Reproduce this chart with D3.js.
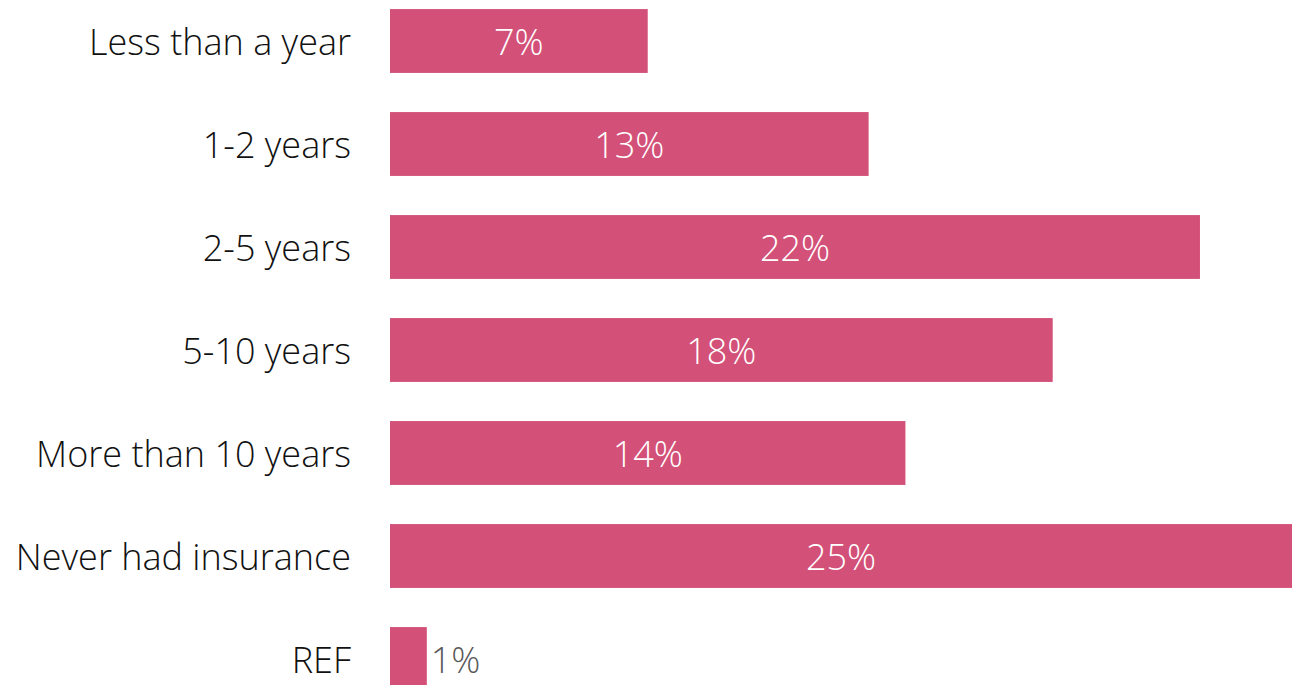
<!DOCTYPE html>
<html>
<head>
<meta charset="utf-8">
<script src="https://cdn.jsdelivr.net/npm/d3@7"></script>
<style>
  html, body { margin: 0; padding: 0; background: #fff; overflow: hidden; }
  svg { display: block; font-family: "Open Sans", "Noto Sans", sans-serif; }
</style>
</head>
<body>
<div id="chart"></div>
<script>
const categories = ['Less than a year', '1-2 years', '2-5 years', '5-10 years', 'More than 10 years', 'Never had insurance', 'REF'];
const values = [7.0, 13.0, 22.0, 18.0, 14.0, 24.5, 1.0];
const labels = ['7%', '13%', '22%', '18%', '14%', '25%', '1%'];

const width = 1292, height = 685;
const margin = { left: 390, right: 0 };
const barColor = '#d35078';
const fontSize = 36;

const data = categories.map((c, i) => ({ cat: c, value: values[i], label: labels[i] }));

const svg = d3.select('#chart').append('svg')
  .attr('width', width)
  .attr('height', height);

// scales
const xScale = d3.scaleLinear().domain([0, 24.5]).range([margin.left, width - margin.right]);
const yScale = d3.scaleBand().domain(categories)
  .range([-10.5, -10.5 + 103 * categories.length])
  .paddingInner(0.38)
  .paddingOuter(0.19);

// bars
svg.append('g').selectAll('rect')
  .data(data)
  .join('rect')
  .attr('x', xScale(0))
  .attr('y', d => yScale(d.cat))
  .attr('width', d => xScale(d.value) - xScale(0))
  .attr('height', yScale.bandwidth())
  .attr('fill', barColor);

// category labels
svg.append('g').selectAll('text')
  .data(data)
  .join('text')
  .attr('x', 351)
  .attr('y', d => yScale(d.cat) + yScale.bandwidth() / 2)
  .attr('dy', '0.38em')
  .attr('text-anchor', 'end')
  .attr('font-size', fontSize)
  .attr('font-weight', 300)
  .attr('fill', '#111')
  .text(d => d.cat);

// value labels: inside when the bar is wide enough
const inside = d => (xScale(d.value) - xScale(0)) > 80;
svg.append('g').selectAll('text')
  .data(data)
  .join('text')
  .attr('x', d => inside(d) ? (xScale(0) + xScale(d.value)) / 2 : xScale(d.value) + 4)
  .attr('y', d => yScale(d.cat) + yScale.bandwidth() / 2)
  .attr('dy', '0.38em')
  .attr('text-anchor', d => inside(d) ? 'middle' : 'start')
  .attr('font-size', fontSize)
  .attr('font-weight', 300)
  .attr('fill', d => inside(d) ? '#fff' : '#595959')
  .text(d => d.label);
</script>
</body>
</html>
